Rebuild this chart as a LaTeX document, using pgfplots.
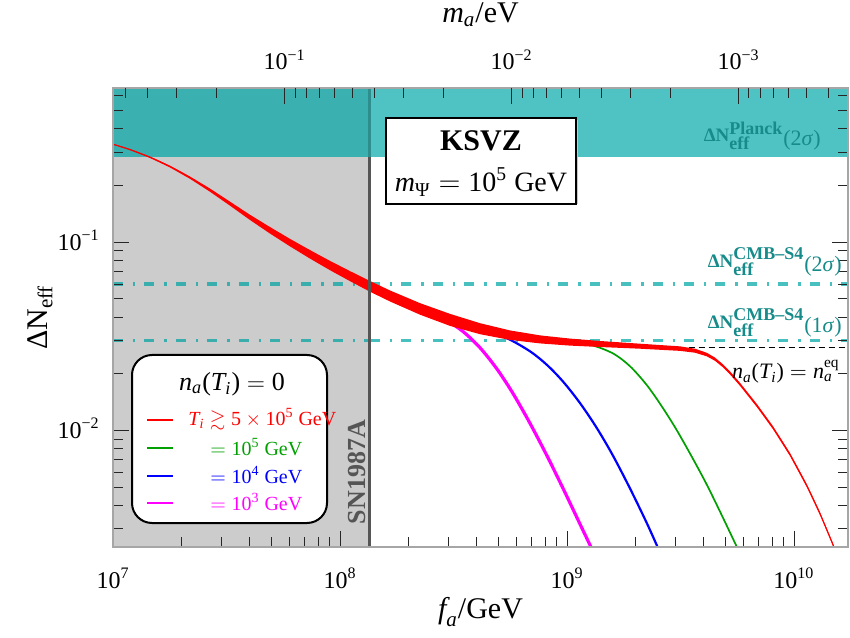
\documentclass[border=0pt]{standalone}
\usepackage{amsmath,amssymb}
\usepackage{fontspec}
\setmainfont{Liberation Serif}
\usepackage{pgfplots}
\pgfplotsset{compat=1.18}
\definecolor{tealL}{HTML}{4FC3C3}
\definecolor{tealD}{HTML}{3AB0B0}
\definecolor{tealT}{HTML}{178A8A}
\definecolor{grayR}{HTML}{CCCCCC}
\definecolor{snG}{HTML}{555555}
\definecolor{snT}{HTML}{2E8E8E}
\definecolor{dashL}{HTML}{48C0C0}
\definecolor{dashD}{HTML}{3AADAD}
\definecolor{rd}{HTML}{FF0000}
\definecolor{grn}{HTML}{00A000}
\definecolor{blu}{HTML}{0000FF}
\definecolor{mag}{HTML}{FF00FF}
\newcommand{\T}[1]{\text{#1}}
\newcommand{\I}[1]{\text{\itshape #1}}
\newcommand{\SupT}[1]{\text{\fontsize{9}{10}\selectfont\bfseries #1}}
\newcommand{\bandlabel}[2]{{\fontsize{9.5}{11}\selectfont\bfseries ΔN$^{\SupT{#1}}_{\SupT{eff}}$}\raisebox{-2pt}{\fontsize{11}{12}\selectfont\mdseries(#2\textit{σ})}}
\begin{document}
\begin{tikzpicture}
\begin{axis}[
  scale only axis, width=367.5pt, height=229.5pt,
  xmode=log, ymode=log,
  xmin=1e7, xmax=1.73e10, ymin=2.4e-3, ymax=0.66,
  axis on top,
  tick align=inside,
  xtick pos=bottom, ytick pos=both,
  axis line style={gray!70, line width=0.6pt},
  major tick length=8pt, minor tick length=5pt,
  tick style={black!85, line width=0.45pt},
  xtick={1e7,1e8,1e9,1e10},
  xticklabels={$\T{10}^{\T{7}}$,$\T{10}^{\T{8}}$,$\T{10}^{\T{9}}$,$\T{10}^{\T{10}}$},
  minor xtick={2e7,3e7,4e7,5e7,6e7,7e7,8e7,9e7,2e8,3e8,4e8,5e8,6e8,7e8,8e8,9e8,2e9,3e9,4e9,5e9,6e9,7e9,8e9,9e9},
  ytick={1e-2,1e-1},
  yticklabels={$\T{10}^{\T{−2}}$,$\T{10}^{\T{−1}}$},
  minor ytick={3e-3,4e-3,5e-3,6e-3,7e-3,8e-3,9e-3,2e-2,3e-2,4e-2,5e-2,6e-2,7e-2,8e-2,9e-2,0.2,0.3,0.4,0.5,0.6},
  xticklabel style={font=\fontsize{12}{14}\selectfont, anchor=base, inner sep=0pt, yshift=-20.5pt},
  yticklabel style={font=\fontsize{12}{14}\selectfont, anchor=base east, inner sep=0pt, xshift=-6.5pt, yshift=-4pt},
  xlabel={$\I{f}_{\I{a}}$/GeV},
  ylabel={ΔN$_{\T{eff}}$},
  xlabel style={font=\fontsize{15}{18}\selectfont, at={(axis description cs:0.5,-0.1416)}, anchor=center},
  ylabel style={font=\fontsize{15}{18}\selectfont, at={(axis description cs:-0.0993,0.5)}, anchor=center},
]
% excluded region (SN1987A) and Planck band
\addplot[draw=none, fill=grayR] coordinates {(1e7,2.4e-3) (1.355e8,2.4e-3) (1.355e8,0.66) (1e7,0.66)} -- cycle;
\addplot[draw=none, fill=tealD] coordinates {(1e7,0.283) (1.355e8,0.283) (1.355e8,0.66) (1e7,0.66)} -- cycle;
\addplot[draw=none, fill=tealL] coordinates {(1.355e8,0.283) (1.73e10,0.283) (1.73e10,0.66) (1.355e8,0.66)} -- cycle;
% CMB-S4 lines
\addplot[dashD, line width=1.6pt, dash pattern=on 5pt off 5pt on 1.2pt off 4.5pt] coordinates {(1e7,0.06) (1.355e8,0.06)};
\addplot[dashL, line width=1.6pt, dash pattern=on 5pt off 5pt on 1.2pt off 4.5pt] coordinates {(1.355e8,0.06) (1.73e10,0.06)};
\addplot[dashD, line width=1.6pt, dash pattern=on 5pt off 5pt on 1.2pt off 4.5pt] coordinates {(1e7,0.03) (1.355e8,0.03)};
\addplot[dashL, line width=1.6pt, dash pattern=on 5pt off 5pt on 1.2pt off 4.5pt] coordinates {(1.355e8,0.03) (1.73e10,0.03)};
% equilibrium
\addplot[black, line width=0.9pt, dash pattern=on 3pt off 2pt] coordinates {(2.8e9,0.0276) (1.73e10,0.0276)};
% curves
\addplot[mag, line width=1.6pt, smooth] coordinates {(1.838e8,.04914) (2.251e8,.04421) (2.961e8,.03810) (3.483e8,.03353) (4.137e8,.02750) (4.916e8,.02118) (5.782e8,.01571) (6.870e8,.01091) (8.164e8,.007326) (9.603e8,.004920) (1.141e9,.003178) (1.302e9,.002275) (1.470e9,.001673)};
\addplot[blu, line width=1.1pt, smooth] coordinates {(4.137e8,.03471) (5.442e8,.03086) (6.870e8,.02632) (8.164e8,.02227) (9.603e8,.01818) (1.141e9,.01397) (1.356e9,.01025) (1.594e9,.007344) (1.895e9,.004913) (2.251e9,.003201) (2.569e9,.002244) (2.901e9,.001612)};
\addplot[grn, line width=0.85pt, smooth] coordinates {(9.315e8,.02979) (1.263e9,.02850) (1.594e9,.02565) (1.895e9,.02192) (2.251e9,.01736) (2.648e9,.01312) (3.146e9,.009371) (4.137e9,.005123) (5.667e9,.002331) (6.400e9,.001673)};
% red band (upper edge, then lower edge back)
\addplot[draw=none, fill=rd] coordinates {(1.000e7,.33374) (1.188e7,.31299) (1.455e7,.28534) (1.783e7,.25520) (2.184e7,.22342) (2.675e7,.19284) (3.277e7,.16428) (4.013e7,.13988) (4.916e7,.12040) (6.022e7,.10418) (7.376e7,.09083) (9.035e7,.07958) (1.107e8,.07018) (1.356e8,.06220) (1.661e8,.05541) (2.251e8,.04744) (3.052e8,.04161) (4.137e8,.03713) (5.609e8,.03398) (7.605e8,.03198) (1.031e9,.03075) (1.398e9,.02986) (2.097e9,.02888) (3.146e9,.02796) (3.664e9,.02717) (4.137e9,.02582) (4.487e9,.02436) (4.866e9,.02244) (5.279e9,.02030) (5.782e9,.01790) (6.870e9,.01378) (8.082e9,.01052) (9.603e9,.007581) (1.141e10,.005155) (1.302e10,.003676) (1.485e10,.002517) (1.678e10,.001719)
 (1.678e10,.001657) (1.485e10,.002426) (1.302e10,.003543) (1.141e10,.004969) (9.603e9,.007308) (8.082e9,.010142) (6.870e9,.01328) (5.782e9,.01725) (5.279e9,.01957) (4.866e9,.02163) (4.487e9,.02343) (4.137e9,.02473) (3.664e9,.02587) (3.146e9,.02646) (2.097e9,.02717) (1.398e9,.02774) (1.031e9,.02822) (7.605e8,.02899) (5.609e8,.03025) (4.137e8,.03245) (3.052e8,.03592) (2.251e8,.04120) (1.661e8,.04842) (1.356e8,.05455) (1.107e8,.06209) (9.035e7,.07101) (7.376e7,.08185) (6.022e7,.09503) (4.916e7,.11118) (4.013e7,.13125) (3.277e7,.15642) (2.675e7,.18543) (2.184e7,.21722) (1.783e7,.24964) (1.455e7,.28048) (1.188e7,.30843) (1.000e7,.32968)} -- cycle;
\addplot[rd, line width=0.45pt, smooth] coordinates {(1.000e7,.3317) (1.188e7,.3107) (1.455e7,.2829) (1.783e7,.2524) (2.184e7,.2203) (2.675e7,.1891) (3.277e7,.1603) (4.013e7,.1355) (4.916e7,.1157) (6.022e7,.0995) (7.376e7,.08622) (9.035e7,.07517) (1.107e8,.06601) (1.356e8,.05825) (1.661e8,.05180) (2.251e8,.04421) (3.052e8,.03866) (4.137e8,.03471) (5.609e8,.03206) (7.605e8,.03045) (1.031e9,.02946) (1.398e9,.02878) (2.097e9,.02801) (3.146e9,.02720) (3.664e9,.02651) (4.137e9,.02527) (4.487e9,.02389) (4.866e9,.02203) (5.279e9,.01993) (5.782e9,.01757) (6.870e9,.01353) (8.082e9,.01033) (9.603e9,.007443) (1.141e10,.005061) (1.302e10,.003609) (1.485e10,.002471) (1.678e10,.001688)};
% SN1987A boundary
\addplot[snG, line width=1.5pt] coordinates {(1.355e8,2.4e-3) (1.355e8,0.283)};
\addplot[snT, line width=1.5pt] coordinates {(1.355e8,0.283) (1.355e8,0.66)};
\end{axis}
\begin{axis}[
  scale only axis, width=367.5pt, height=229.5pt,
  xmode=log, x dir=reverse,
  xmin=3.295e-4, xmax=0.57, ymin=0, ymax=1,
  axis x line*=top, axis y line=none,
  axis line style={draw=none},
  tick align=inside,
  major tick length=8pt, minor tick length=5pt,
  tick style={black!85, line width=0.45pt},
  xtick={1e-3,1e-2,1e-1},
  xticklabels={$\T{10}^{\T{−3}}$,$\T{10}^{\T{−2}}$,$\T{10}^{\T{−1}}$},
  minor xtick={4e-4,5e-4,6e-4,7e-4,8e-4,9e-4,2e-3,3e-3,4e-3,5e-3,6e-3,7e-3,8e-3,9e-3,2e-2,3e-2,4e-2,5e-2,6e-2,7e-2,8e-2,9e-2,0.2,0.3,0.4,0.5},
  xticklabel style={font=\fontsize{12}{14}\selectfont, anchor=base, inner sep=0pt, yshift=9pt},
  xlabel={$\I{m}_{\I{a}}$/eV},
  xlabel style={font=\fontsize{15}{18}\selectfont, at={(axis description cs:0.5,1.159)}, anchor=center},
]
\addplot[draw=none] coordinates {(0.01,0.5)};
\end{axis}
% band labels
\node[anchor=east, text=tealT, inner sep=0pt, font=\fontsize{9.5}{11}\selectfont] at (354pt,205.5pt) {\bandlabel{Planck}{2}};
\node[anchor=east, text=tealT, inner sep=0pt, font=\fontsize{9.5}{11}\selectfont] at (364.5pt,142.5pt) {\bandlabel{CMB–S4}{2}};
\node[anchor=east, text=tealT, inner sep=0pt, font=\fontsize{9.5}{11}\selectfont] at (364.5pt,112pt) {\bandlabel{CMB–S4}{1}};
\node[anchor=east, inner sep=0pt, font=\fontsize{11}{13}\selectfont] at (363.5pt,87.5pt) {$\I{n}_{\I{a}}\T{(}\I{T}_{\I{i}}\T{)} = \I{n}_{\I{a}}^{\T{eq}}$};
% SN label
\node[rotate=90, text=snG, inner sep=0pt, font=\bfseries\fontsize{13}{15}\selectfont] at (122pt,37.5pt) {SN1987A};
% KSVZ box
\fill[gray!45] (137.7pt,171.5pt) rectangle (232.7pt,213.5pt);
\draw[black, line width=0.6pt, fill=white] (136.5pt,171.5pt) rectangle (231.5pt,214.5pt);
\node[font=\bfseries\fontsize{15}{18}\selectfont] at (184pt,203pt) {KSVZ};
\node[font=\fontsize{14}{17}\selectfont] at (184pt,182.5pt) {$\I{m}_{\T{Ψ}} = \T{10}^{\T{5}}$ GeV};
% legend
\draw[black, line width=1pt, rounded corners=10pt, fill=white] (9.5pt,12pt) rectangle (107pt,96pt);
\node[font=\fontsize{13}{15}\selectfont] at (59.5pt,81.5pt) {$\I{n}_{\I{a}}\T{(}\I{T}_{\I{i}}\T{)} = \T{0}$};
\draw[rd, line width=1pt] (17pt,63.5pt) -- (30pt,63.5pt);
\draw[grn, line width=1pt] (17pt,49.5pt) -- (30pt,49.5pt);
\draw[blu, line width=1pt] (17pt,35.5pt) -- (30pt,35.5pt);
\draw[mag, line width=1pt] (17pt,22pt) -- (30pt,22pt);
\node[anchor=west, text=rd, inner sep=0pt, font=\fontsize{10}{12}\selectfont] at (37.5pt,64pt) {$\I{T}_{\I{i}}\gtrsim\T{5}\times\T{10}^{\T{5}}$ GeV};
\node[anchor=west, text=grn, inner sep=0pt, font=\fontsize{10}{12}\selectfont] at (48.5pt,50pt) {$=\T{10}^{\T{5}}$ GeV};
\node[anchor=west, text=blu, inner sep=0pt, font=\fontsize{10}{12}\selectfont] at (48.5pt,36pt) {$=\T{10}^{\T{4}}$ GeV};
\node[anchor=west, text=mag, inner sep=0pt, font=\fontsize{10}{12}\selectfont] at (48.5pt,22.5pt) {$=\T{10}^{\T{3}}$ GeV};
\pgfresetboundingbox
\path[use as bounding box] (-56.5pt,-45pt) rectangle (368.5pt,273.5pt);
\end{tikzpicture}
\end{document}
